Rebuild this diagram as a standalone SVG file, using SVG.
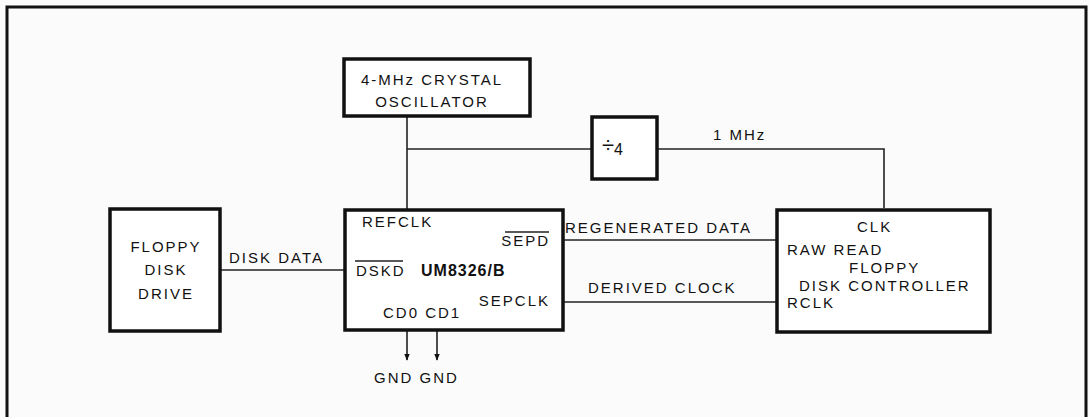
<svg xmlns="http://www.w3.org/2000/svg" width="1090" height="417" viewBox="0 0 1090 417">
<style>
.box{fill:#fff;stroke:#111;stroke-width:3.5}
.ln{fill:none;stroke:#222;stroke-width:1.6}
text{font-family:"Liberation Sans",Arial,sans-serif;font-size:15px;fill:#111;letter-spacing:2px}
.c{text-anchor:middle}
.e{text-anchor:end}
.b{font-weight:bold;font-size:16px;letter-spacing:1px}
</style>
<defs>
<marker id="ah" viewBox="0 0 10 10" refX="9" refY="5" markerWidth="7" markerHeight="9" orient="auto" markerUnits="userSpaceOnUse">
<path d="M0,1 L10,5 L0,9 z" fill="#111"/>
</marker>
</defs>
<rect x="0" y="0" width="1090" height="417" fill="#fbfbfb"/>
<path d="M7,420 V7 H1086 V420" fill="none" stroke="#111" stroke-width="3"/>

<g id="connectors">
<path class="ln" d="M407,116 V210"/>
<path class="ln" d="M407,149 H592"/>
<path class="ln" d="M657,149 H884 V208"/>
<path class="ln" d="M220,270 H345"/>
<path class="ln" d="M563,240 H880"/>
<path class="ln" d="M563,302 H777"/>
<path class="ln" d="M407,331 V360" marker-end="url(#ah)"/>
<path class="ln" d="M437,331 V360" marker-end="url(#ah)"/>
<text x="229" y="263">DISK DATA</text>
<text x="565" y="233">REGENERATED DATA</text>
<text x="588" y="293">DERIVED CLOCK</text>
<text x="713" y="140">1 MHz</text>
<text x="374" y="383">GND GND</text>
</g>

<g id="crystal">
<rect class="box" x="344" y="59" width="186" height="57"/>
<text class="c" x="432" y="85">4-MHz CRYSTAL</text>
<text class="c" x="432" y="107">OSCILLATOR</text>
</g>

<g id="div4">
<rect class="box" x="592" y="117" width="65" height="62"/>
<text x="602" y="152" style="font-size:22px;letter-spacing:0">÷<tspan font-size="16" dy="3">4</tspan></text>
</g>

<g id="drive">
<rect class="box" x="110" y="209" width="110" height="122"/>
<text class="c" x="166" y="252">FLOPPY</text>
<text class="c" x="166" y="275">DISK</text>
<text class="c" x="166" y="299">DRIVE</text>
</g>

<g id="um8326">
<rect class="box" x="345" y="210" width="218" height="120"/>
<text x="362" y="227">REFCLK</text>
<text class="e" x="550" y="246">SEPD</text>
<path class="ln" d="M505,232 H549"/>
<text x="356" y="276">DSKD</text>
<path class="ln" d="M355,261 H403"/>
<text class="b" x="421" y="276">UM8326/B</text>
<text class="e" x="550" y="306">SEPCLK</text>
<text x="383" y="318">CD0 CD1</text>
</g>

<g id="controller">
<rect class="box" x="777" y="210" width="213" height="122"/>
<text x="857" y="232">CLK</text>
<text x="787" y="255">RAW READ</text>
<text x="849" y="273">FLOPPY</text>
<text x="799" y="291">DISK CONTROLLER</text>
<text x="787" y="308">RCLK</text>
</g>
</svg>
